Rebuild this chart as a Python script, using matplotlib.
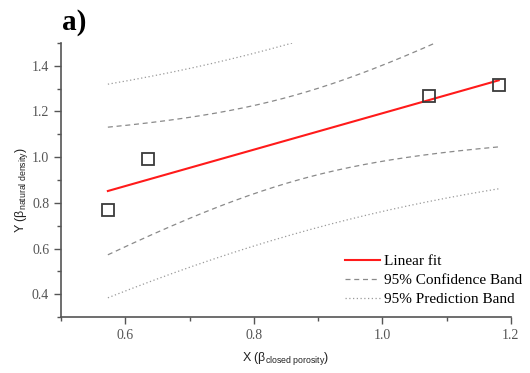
import numpy as np
import matplotlib
matplotlib.use("Agg")
import matplotlib.pyplot as plt
from matplotlib.ticker import MultipleLocator, FormatStrFormatter

# Measured data
x_closed_porosity = [0.573, 0.636, 1.073, 1.181]
y_natural_density = [0.77, 0.99, 1.266, 1.314]

# Student t critical value for 95% two-sided, n - 2 = 2 degrees of freedom
T_CRIT = 4.303

plt.rcParams["mathtext.fontset"] = "custom"
plt.rcParams["mathtext.rm"] = "Liberation Sans"
plt.rcParams["mathtext.it"] = "Liberation Sans"
plt.rcParams["mathtext.bf"] = "Liberation Sans:bold"

x = np.array(x_closed_porosity)
y = np.array(y_natural_density)
n = len(x)
slope, intercept = np.polyfit(x, y, 1)
resid = y - (slope * x + intercept)
s = np.sqrt(np.sum(resid ** 2) / (n - 2))
sxx = np.sum((x - x.mean()) ** 2)

xf = np.linspace(x.min(), x.max(), 200)
yf = slope * xf + intercept
conf = T_CRIT * s * np.sqrt(1.0 / n + (xf - x.mean()) ** 2 / sxx)
pred = T_CRIT * s * np.sqrt(1.0 + 1.0 / n + (xf - x.mean()) ** 2 / sxx)

fig = plt.figure(figsize=(5.30, 3.73), dpi=100)
ax = fig.add_axes([0.115, 0.150, 0.849, 0.735])

ax.plot(x, y, linestyle="none", marker="s", markersize=9,
        markerfacecolor="none", markeredgecolor="#3a3a3a", markeredgewidth=1.3,
        zorder=4)
ax.plot(xf, yf, color="#ff1a1a", lw=1.5, label="Linear fit", zorder=3)
ax.plot(xf, yf + conf, color="#8a8a8a", lw=0.9, ls=(0, (4, 3)),
        label="95% Confidence Band")
ax.plot(xf, yf - conf, color="#8a8a8a", lw=0.9, ls=(0, (4, 3)))
ax.plot(xf, yf + pred, color="#9a9a9a", lw=0.9, ls=(0, (1, 2)),
        label="95% Prediction Band")
ax.plot(xf, yf - pred, color="#9a9a9a", lw=0.9, ls=(0, (1, 2)))

ax.set_xlim(0.5, 1.2)
ax.set_ylim(0.3, 1.5)
ax.xaxis.set_minor_locator(MultipleLocator(0.1))
ax.yaxis.set_minor_locator(MultipleLocator(0.1))
ax.set_xticks([0.6, 0.8, 1.0, 1.2])
ax.set_yticks([0.4, 0.6, 0.8, 1.0, 1.2, 1.4])
ax.xaxis.set_major_formatter(FormatStrFormatter("%.1f"))
ax.yaxis.set_major_formatter(FormatStrFormatter("%.1f"))

for side in ("top", "right"):
    ax.spines[side].set_visible(False)
for side in ("left", "bottom"):
    ax.spines[side].set_color("#555555")
    ax.spines[side].set_linewidth(1.2)

ax.tick_params(which="both", direction="out", color="#555555", width=1.0)
ax.tick_params(which="major", length=5, labelsize=10, labelcolor="#555555")
ax.tick_params(which="minor", length=3)
for lbl in ax.get_xticklabels() + ax.get_yticklabels():
    lbl.set_fontfamily("Liberation Serif")

ax.set_xlabel(r"X ($\beta_{\mathrm{closed\ porosity}}$)", fontsize=9,
              family="Liberation Sans", color="#222222", labelpad=6)
ax.set_ylabel(r"Y ($\beta_{\mathrm{natural\ density}}$)", fontsize=9,
              family="Liberation Sans", color="#222222")
ax.yaxis.set_label_coords(-0.069, 0.463)

ax.legend(loc="lower right", frameon=False, handlelength=2.3,
          handletextpad=0.25, labelspacing=0.35, borderpad=0,
          prop={"family": "Liberation Serif", "size": 11},
          bbox_to_anchor=(1.042, 0.012))

fig.text(0.117, 0.94, "a)", fontsize=21, fontweight="bold",
         family="Liberation Serif", va="center", ha="left")

fig.savefig("out.png", dpi=100)
